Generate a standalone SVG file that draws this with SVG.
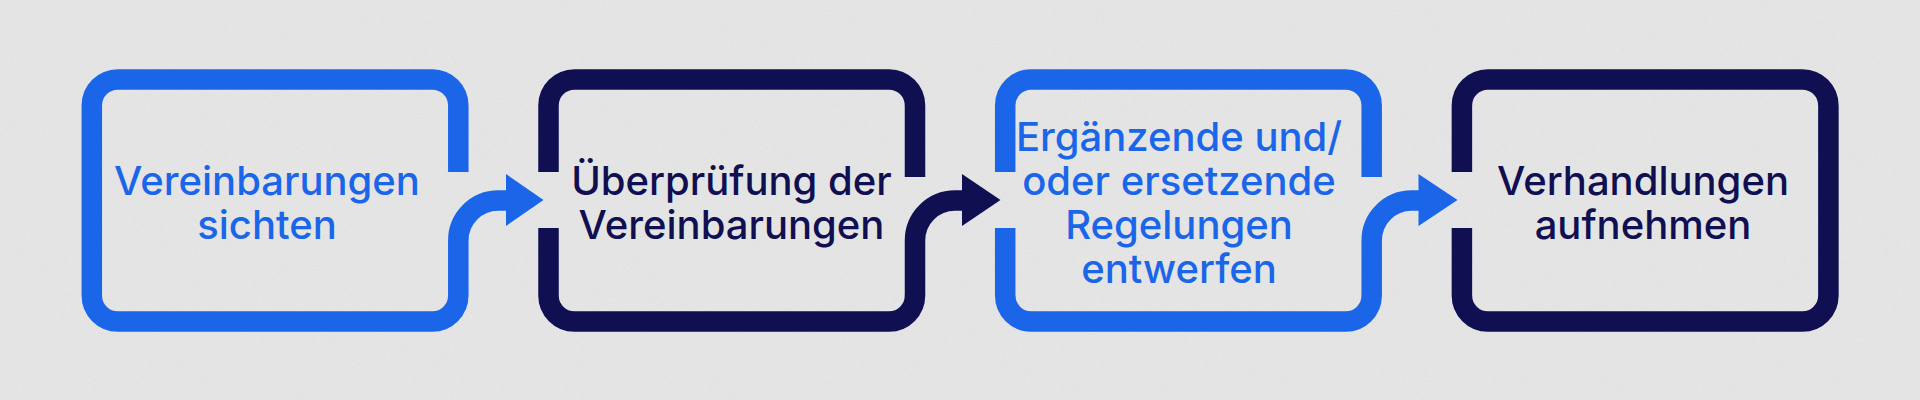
<svg xmlns="http://www.w3.org/2000/svg" width="1920" height="400" viewBox="0 0 1920 400">
  <defs>
    <style>
      .blue { stroke: #1b66e8; }
      .navy { stroke: #0f0f52; }
      .line { fill: none; stroke-width: 20.5; stroke-linecap: butt; stroke-linejoin: round; }
      .head-blue { fill: #1b66e8; }
      .head-navy { fill: #0f0f52; }
      .label { font-family: Inter, "Noto Sans", "Liberation Sans", sans-serif; font-size: 40px; font-weight: 500; text-anchor: middle; }
      .t-blue { fill: #1b66e8; }
      .t-navy { fill: #0f0f52; }
    </style>
    <filter id="paper" x="0" y="0" width="100%" height="100%">
      <feTurbulence type="fractalNoise" baseFrequency="0.9" numOctaves="2" seed="3" result="n"/>
      <feColorMatrix type="matrix" values="0 0 0 0 0.55  0 0 0 0 0.56  0 0 0 0 0.56  0 0 0 -1.4 0.75" />
    </filter>
  </defs>

  <rect id="background" x="0" y="0" width="1920" height="400" fill="#e4e5e4"/>
  <rect x="0" y="0" width="1920" height="400" filter="url(#paper)" opacity="0.35"/>

  <g id="node1">
    <path class="line blue" d="M458.3,172 V105.5 A26,26 0 0 0 432.3,79.5 H117.8 A26,26 0 0 0 91.8,105.5 V295.5 A26,26 0 0 0 117.8,321.5 H432.3 A26,26 0 0 0 458.3,295.5"/>
    <text class="label t-blue"><tspan x="267" y="195">Vereinbarungen</tspan><tspan x="267" y="239">sichten</tspan></text>
  </g>

  <g id="node2">
    <path class="line navy" d="M548.5,172 V105.5 A26,26 0 0 1 574.5,79.5 H889 A26,26 0 0 1 915,105.5 V177"/>
    <path class="line navy" d="M548.5,228 V295.5 A26,26 0 0 0 574.5,321.5 H889 A26,26 0 0 0 915,295.5"/>
    <text class="label t-navy"><tspan x="731.5" y="195">Überprüfung der</tspan><tspan x="731.5" y="239">Vereinbarungen</tspan></text>
  </g>

  <g id="node3">
    <path class="line blue" d="M1005.2,172 V105.5 A26,26 0 0 1 1031.2,79.5 H1345.7 A26,26 0 0 1 1371.7,105.5 V177"/>
    <path class="line blue" d="M1005.2,228 V295.5 A26,26 0 0 0 1031.2,321.5 H1345.7 A26,26 0 0 0 1371.7,295.5"/>
    <text class="label t-blue"><tspan x="1179" y="151">Ergänzende und/</tspan><tspan x="1179" y="195">oder ersetzende</tspan><tspan x="1179" y="239">Regelungen</tspan><tspan x="1179" y="283">entwerfen</tspan></text>
  </g>

  <g id="node4">
    <path class="line navy" d="M1461.9,172 V105.5 A26,26 0 0 1 1487.9,79.5 H1802.4 A26,26 0 0 1 1828.4,105.5 V295.5 A26,26 0 0 1 1802.4,321.5 H1487.9 A26,26 0 0 1 1461.9,295.5 V228"/>
    <text class="label t-navy"><tspan x="1643" y="195">Verhandlungen</tspan><tspan x="1643" y="239">aufnehmen</tspan></text>
  </g>

  <g id="connectors">
    <path class="line blue" d="M458.3,296 V240.5 A40,40 0 0 1 498.3,200.5 H508"/>
    <polygon class="head-blue" points="506,174 543.5,200 506,226"/>
    <path class="line navy" d="M915,296 V240.5 A40,40 0 0 1 955,200.5 H964"/>
    <polygon class="head-navy" points="962,174 1000.5,200 962,226"/>
    <path class="line blue" d="M1371.7,296 V240.5 A40,40 0 0 1 1411.7,200.5 H1420"/>
    <polygon class="head-blue" points="1418.5,174 1457.5,200 1418.5,226"/>
  </g>
</svg>
